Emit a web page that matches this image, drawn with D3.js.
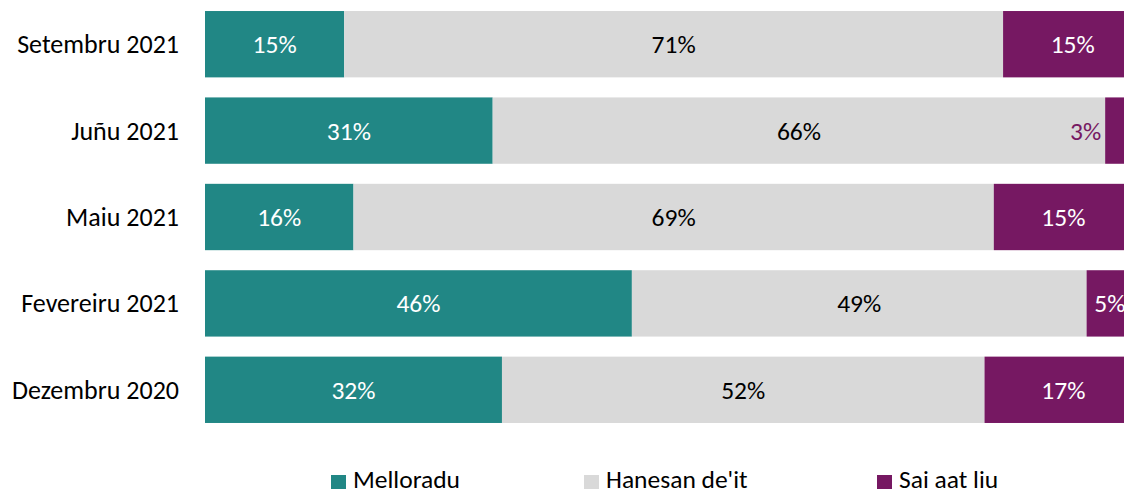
<!DOCTYPE html>
<html>
<head>
<meta charset="utf-8">
<script src="https://cdn.jsdelivr.net/npm/d3@7"></script>
<style>
  html, body { margin: 0; padding: 0; background: #fff; overflow: hidden; }
  svg { display: block; font-family: Carlito, "Open Sans", Lato, sans-serif; }
</style>
</head>
<body>
<svg id="chart" width="1124" height="495"></svg>
<script>
const categories = ["Setembru 2021", "Juñu 2021", "Maiu 2021", "Fevereiru 2021", "Dezembru 2020"];
const seriesNames = ["Melloradu", "Hanesan de'it", "Sai aat liu"];
const melloradu = [15, 31, 16, 46, 32];
const hanesan = [71, 66, 69, 49, 52];
const saiAatLiu = [15, 3, 15, 5, 17];
const colors = ["#218785", "#d9d9d9", "#761862"];
const labelColors = ["#ffffff", "#000000", "#ffffff"];

const rows = categories.map((c, i) => ({ cat: c, v: [melloradu[i], hanesan[i], saiAatLiu[i]] }));

const svg = d3.select("#chart");
const x = d3.scaleLinear().domain([0, 100]).range([205, 1133]);
const y = d3.scaleBand().domain(categories).range([1, 433]).paddingInner(0.232).paddingOuter(0.116);

// y labels
svg.append("g").selectAll("text").data(categories).join("text")
  .attr("x", 179).attr("y", d => y(d) + y.bandwidth() / 2 + 9)
  .attr("text-anchor", "end")
  .attr("font-size", 26).attr("fill", "#000").text(d => d);

rows.forEach(r => {
  let acc = 0;
  r.v.forEach((val, k) => {
    const x0 = x(acc), x1 = x(acc + val);
    acc += val;
    const g = svg.append("g");
    g.append("rect").attr("x", x0).attr("y", y(r.cat)).attr("width", x1 - x0).attr("height", y.bandwidth()).attr("fill", colors[k]);
    const small = val < 4;
    g.append("text")
      .attr("x", small ? x0 - 4 : (x0 + x1) / 2)
      .attr("y", y(r.cat) + y.bandwidth() / 2 + 9)
      .attr("text-anchor", small ? "end" : "middle")
      .attr("font-size", 25.5)
      .attr("fill", small ? colors[k] : labelColors[k])
      .text(val + "%");
  });
});

// legend
const legendX = [331, 584, 877];
const lg = svg.append("g");
seriesNames.forEach((n, k) => {
  lg.append("rect").attr("x", legendX[k]).attr("y", 475).attr("width", 15).attr("height", 14).attr("fill", colors[k]);
  lg.append("text").attr("x", legendX[k] + 22).attr("y", 488)
    .attr("font-size", 25.5).attr("fill", "#000").text(n);
});
</script>
</body>
</html>
